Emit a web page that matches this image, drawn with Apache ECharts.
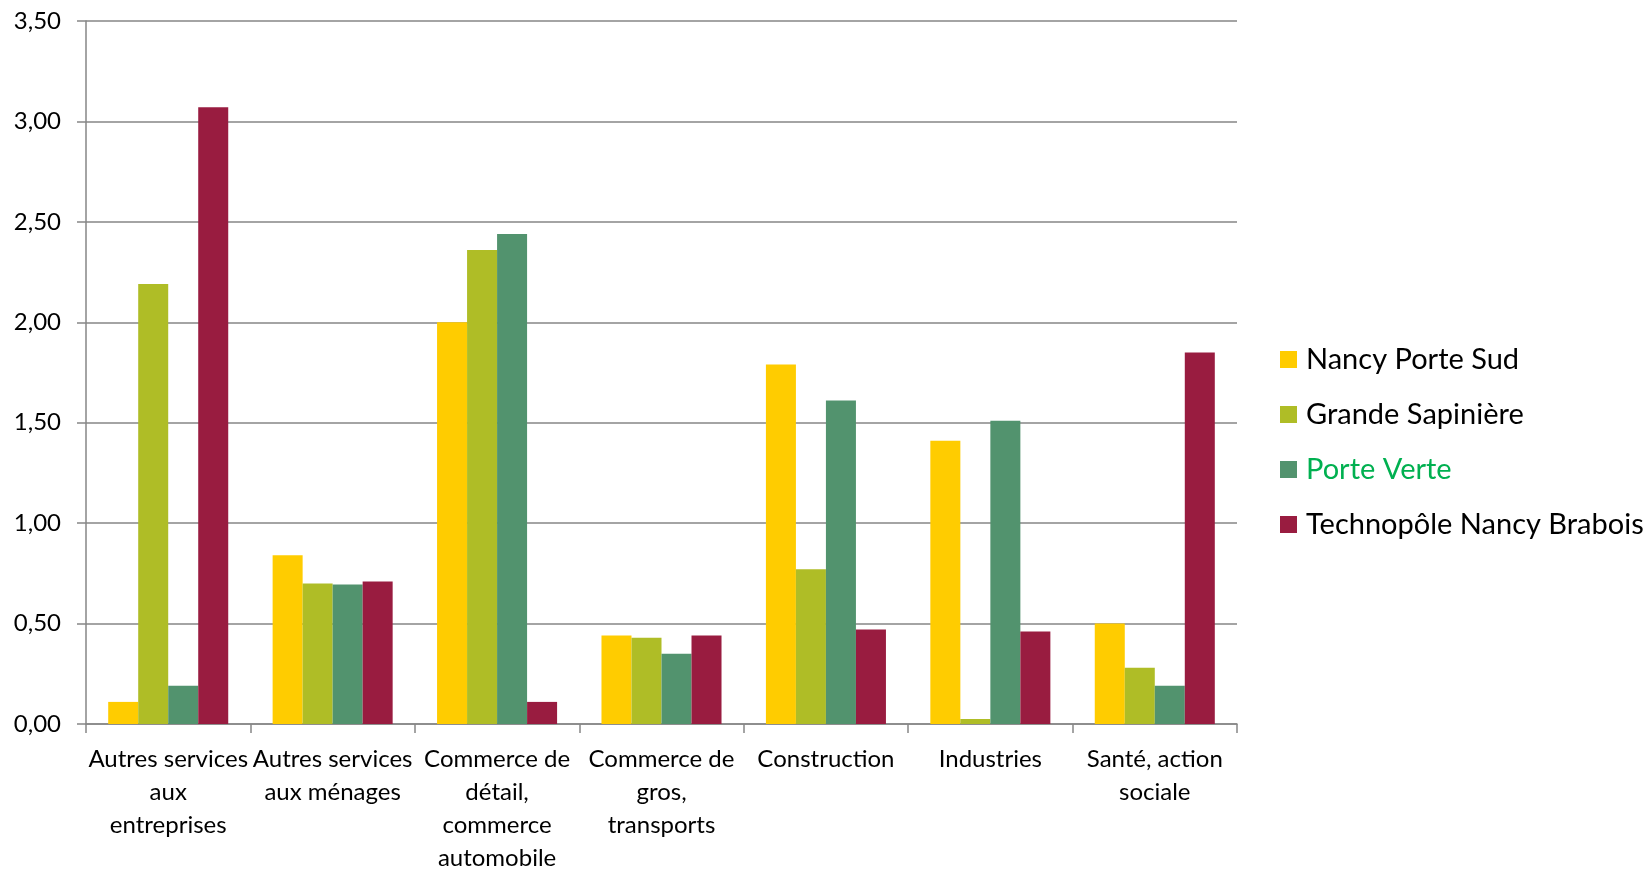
<!DOCTYPE html>
<html>
<head>
<meta charset="utf-8">
<script src="https://cdn.jsdelivr.net/npm/echarts@6/dist/echarts.min.js"></script>
<style>
html,body{margin:0;padding:0;background:#fff;}
#chart{width:1650px;height:875px;}
</style>
</head>
<body>
<div id="chart"></div>
<script>
const categories = [
  'Autres services\naux\nentreprises',
  'Autres services\naux ménages',
  'Commerce de\ndétail,\ncommerce\nautomobile',
  'Commerce de\ngros,\ntransports',
  'Construction',
  'Industries',
  'Santé, action\nsociale'
];
const seriesNames = ['Nancy Porte Sud', 'Grande Sapinière', 'Porte Verte', 'Technopôle Nancy Brabois'];
const nancyPorteSud = [0.11, 0.84, 2.00, 0.44, 1.79, 1.41, 0.50];
const grandeSapiniere = [2.19, 0.70, 2.36, 0.43, 0.77, 0.025, 0.28];
const porteVerte = [0.19, 0.695, 2.44, 0.35, 1.61, 1.51, 0.19];
const technopole = [3.07, 0.71, 0.11, 0.44, 0.47, 0.46, 1.85];
const yTicks = { min: 0, max: 3.5, interval: 0.5 };

const colors = ['#FFCC00', '#AFBD26', '#52936E', '#991C40'];
const values = [nancyPorteSud, grandeSapiniere, porteVerte, technopole];
const FONT = 'Lato, "Open Sans", sans-serif';

const chart = echarts.init(document.getElementById('chart'));
chart.setOption({
  animation: false,
  backgroundColor: '#ffffff',
  grid: { left: 86, right: 413, top: 21, bottom: 141, containLabel: false },
  legend: {
    orient: 'vertical',
    left: 1280,
    top: 343,
    padding: 0,
    itemWidth: 17,
    itemHeight: 17,
    itemGap: 22,
    icon: 'rect',
    textStyle: { fontFamily: FONT, fontSize: 29, color: '#000', lineHeight: 33, padding: [0, 0, 0, 4] },
    data: seriesNames.map((n, i) => ({
      name: n,
      textStyle: i === 2 ? { color: '#00B050' } : { color: '#000' }
    }))
  },
  xAxis: {
    type: 'category',
    data: categories,
    axisLine: { lineStyle: { color: '#868686', width: 1.5 } },
    axisTick: { show: true, length: 9, lineStyle: { color: '#868686', width: 1.5 } },
    axisLabel: {
      interval: 0,
      margin: 19,
      fontFamily: FONT,
      fontSize: 24,
      lineHeight: 33,
      color: '#000'
    },
    splitLine: { show: false }
  },
  yAxis: {
    type: 'value',
    min: yTicks.min,
    max: yTicks.max,
    interval: yTicks.interval,
    axisLine: { show: true, lineStyle: { color: '#868686', width: 1.5 } },
    axisTick: { show: true, length: 9, lineStyle: { color: '#868686', width: 1.5 } },
    axisLabel: {
      margin: 25,
      fontFamily: FONT,
      fontSize: 24,
      color: '#000',
      formatter: v => v.toFixed(2).replace('.', ',')
    },
    splitLine: { show: true, lineStyle: { color: '#868686', width: 1.5 } }
  },
  series: seriesNames.map((n, i) => ({
    name: n,
    type: 'bar',
    data: values[i],
    barGap: '0%',
    barCategoryGap: '27%',
    itemStyle: { color: colors[i] }
  }))
});
</script>
</body>
</html>
